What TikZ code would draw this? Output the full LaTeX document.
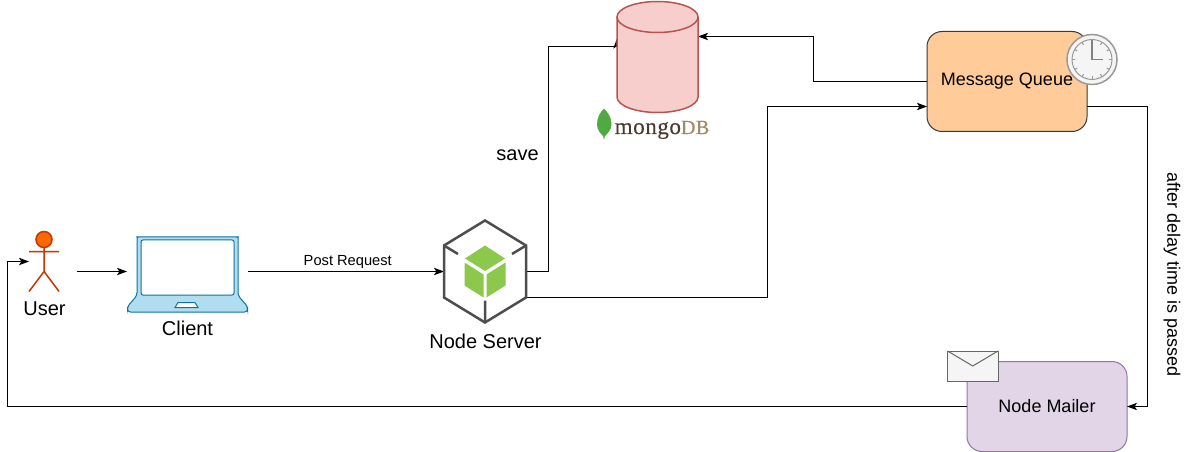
\documentclass[tikz,border=0pt]{standalone}
\usepackage{fontspec}
\setmainfont{Liberation Sans}
\newfontfamily\logofont{Liberation Serif}
\usetikzlibrary{arrows.meta,calc}
\definecolor{dbfill}{HTML}{F8CECC}\definecolor{dbline}{HTML}{B85450}
\definecolor{mqfill}{HTML}{FFCC99}\definecolor{mqline}{HTML}{36393D}
\definecolor{mailfill}{HTML}{E1D5E7}\definecolor{mailline}{HTML}{9673A6}
\definecolor{lapfill}{HTML}{B1DDF0}\definecolor{lapline}{HTML}{10739E}
\definecolor{actorfill}{HTML}{FA6800}\definecolor{actorline}{HTML}{C73500}
\definecolor{hexline}{HTML}{4D4D4D}\definecolor{cube}{HTML}{8CC84B}
\definecolor{mongotxt}{HTML}{4A3A30}\definecolor{dbtxt}{HTML}{A08A65}
\definecolor{leaf}{HTML}{4FAA41}
\tikzset{
  px/.style={line width=#1*0.75pt},
  conn/.style={px=1,-{Stealth[length=7.5pt,width=5.5pt,inset=1.8pt]},line join=miter},
  area/.style={inner sep=0pt,outer sep=0pt,minimum width=#1},
  roundbox/.style={draw,px=1,rounded corners=11.25pt,inner sep=0pt,outer sep=0pt,minimum width=120pt},
  big/.style={inner sep=0pt,font=\fontsize{15}{18}\selectfont},
  mid/.style={inner sep=0pt,font=\fontsize{13.5}{16}\selectfont},
  small/.style={inner sep=0pt,font=\fontsize{11}{13}\selectfont},
}
\begin{document}
\begin{tikzpicture}[x=0.75pt,y=-0.75pt]
\useasboundingbox (0,-0.5) rectangle (1188,451.5);
\fill[white] (0,-0.5) rectangle (1188,451.5);
% anchors of the shapes
\node[area=22.5pt,minimum height=45pt] (user) at (44,261) {};
\node[area=90.75pt,minimum height=57pt] (client) at (187.5,274) {};
\node[area=61.5pt,minimum height=76.5pt] (server) at (485,271) {};
\node[area=60.75pt,minimum height=83.25pt] (db) at (657.5,56.5) {};
\node[roundbox,fill=mqfill,draw=mqline,minimum height=75pt] (mq) at (1007,81) {};
\node[roundbox,fill=mailfill,draw=mailline,minimum height=67.5pt] (mailer) at (1047,406) {};
\coordinate (userout) at (77,271);
% connectors
\draw[conn] (userout) -- (client.west |- userout);
\draw[conn] (client.east |- server.west) -- node[small,above=1.9pt,pos=0.509] (post) {Post Request} (server.west);
\draw[conn] (server.east) -- (548,271) -- (548,46) -- ($(db.north west)+(0,45)$) -- ($(db.north west)+(0,37)$);
\draw[conn] ($(server.east)+(0,26)$) -- (767,297) -- (767,106) -- ($(mq.west)+(0,25)$);
\draw[conn] (mq.west) -- (813,81) -- (813,36) -- ($(db.north east)+(0,35)$);
\draw[conn] ($(mq.east)+(0,25)$) -- (1147,106) -- (1147,406) -- (mailer.east);
\draw[conn] (mailer.west) -- (7,406) -- (7,261) -- (user.west);
% user
\draw[actorline,px=1.5] (44,247) -- (44,271) (29,251) -- (59,251) (29,291) -- (44,271) -- (59,291);
\draw[actorline,fill=actorfill,px=1.5] (44,239) circle (8);
\node[big] (userlabel) at (44.5,308) {User};
% client laptop
\draw[lapline,fill=lapfill,px=1,rounded corners=2.25pt]
  (137,295) -- (137,240) .. controls (137,237.5) and (138,236.5) .. (140,236.5) -- (235,236.5)
  .. controls (237,236.5) and (238,237.5) .. (238,240) -- (238,295) -- (247.5,306) -- (247.5,311.5) -- (127.5,311.5) -- (127.5,306) -- cycle;
\draw[lapline,fill=white,px=1,rounded corners=1.5pt] (141,239.5) rectangle (234,294.5);
\draw[lapline,fill=white,px=1] (175,307) -- (178,302) -- (195,302) -- (198,307) -- cycle;
\node[big] (clientlabel) at (187.5,328) {Client};
% node server
\draw[hexline,px=2.5,line join=miter] (485,220) -- (526,245) -- (526,297) -- (485,322) -- (444,297) -- (444,245) -- cycle;
\draw[hexline,px=2.5] (444,245) -- (458,253.5) (526,245) -- (512,253.5) (485,322) -- (485,300);
\fill[cube] (485,245) -- (505,258) -- (485,270.5) -- (465,258) -- cycle;
\fill[cube] (464.5,262) -- (483.5,274) -- (483.5,297) -- (464.5,285) -- cycle;
\fill[cube] (486.5,274) -- (505.5,262) -- (505.5,285) -- (486.5,297) -- cycle;
\node[big] (serverlabel) at (485.5,341) {Node Server};
\node[big] (save) at (517.5,155) {save};
% database
\draw[dbline,fill=dbfill,px=1.5] (617,16.5) -- (617,96.5) .. controls (617,105) and (635,112) .. (657.5,112)
  .. controls (680,112) and (698,105) .. (698,96.5) -- (698,16.5);
\draw[dbline,fill=dbfill,px=1.5] (657.5,16.5) circle[x radius=40.5,y radius=15.5];
\fill[leaf] (604,108) .. controls (608,112) and (611.5,117) .. (611.5,124) .. controls (611.5,130) and (607,133) .. (604.6,136)
  -- (604.4,139) -- (603.6,139) -- (603.4,136) .. controls (601,133) and (597,130) .. (597,124) .. controls (597,117) and (600,112) .. (604,108) -- cycle;
\node[inner sep=0pt,anchor=base west] (mongo) at (614.5,133.5) {\logofont\addfontfeature{FakeBold=0.3}\fontsize{17.25}{20}\selectfont\addfontfeature{LetterSpace=2.5}\textcolor{mongotxt}{mongo}\fontsize{15}{20}\selectfont\textcolor{dbtxt}{DB}};
% clock
\draw[gray!80,fill=white!96!black,px=1.5] (1092,59) circle (25);
\draw[gray!80,px=1] (1092,59) circle (20);
\foreach \a in {0,30,...,330}
  \draw[gray!80,px=1] ($(1092,59)+(\a:20)$) -- ($(1092,59)+(\a:17)$);
\draw[gray,px=1.5] (1092,40) -- (1092,59) -- (1103,59);
\node[mid] (mqlabel) at (mq.center) {Message Queue};
% mailer
\node[mid] (maillabel) at (mailer.center) {Node Mailer};
\draw[black!60,fill=black!4,px=1] (947.5,350.5) rectangle (998,380.5);
\draw[black!60,px=1] (947.5,350.5) -- (972.75,365.5) -- (998,350.5);
\node[mid,rotate=-90] (delay) at (1172,274) {after delay time is passed};
\end{tikzpicture}
\end{document}
